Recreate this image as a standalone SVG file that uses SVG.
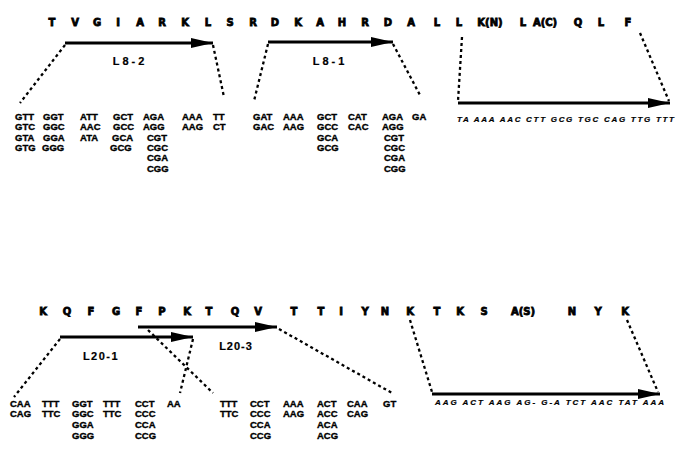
<svg xmlns="http://www.w3.org/2000/svg" width="676" height="459" viewBox="0 0 676 459">
<style>
.aa{font-family:"DejaVu Sans",sans-serif;font-weight:bold;font-size:10px;text-anchor:middle;fill:#000;stroke:#000;stroke-width:0.8}
.cd{font-family:"Liberation Sans",Arial,sans-serif;font-weight:bold;font-size:9.5px;fill:#000;stroke:#000;stroke-width:0.35}
.lb{font-family:"Liberation Sans",Arial,sans-serif;font-weight:bold;font-size:11px;text-anchor:middle;fill:#000;stroke:#000;stroke-width:0.2}
.it{font-family:"Liberation Sans",Arial,sans-serif;font-weight:bold;font-style:italic;font-size:8px;fill:#000;stroke:#000;stroke-width:0.2}
.ar{stroke:#000;stroke-width:3;fill:none}
.ds{stroke:#000;stroke-width:2.3;fill:none;stroke-dasharray:3 3}
</style>
<defs>
<marker id="ah" markerUnits="userSpaceOnUse" markerWidth="24" markerHeight="12" refX="22" refY="5" orient="auto">
<path d="M0,0 L22,5 L0,10 z" fill="#000"/>
</marker>
</defs>
<g id="row1">
<text class="aa" x="52" y="26">T</text><text class="aa" x="75" y="26">V</text><text class="aa" x="97" y="26">G</text><text class="aa" x="118" y="26">I</text><text class="aa" x="140" y="26">A</text><text class="aa" x="162" y="26">R</text><text class="aa" x="185" y="26">K</text><text class="aa" x="208" y="26">L</text><text class="aa" x="230" y="26">S</text><text class="aa" x="253" y="26">R</text><text class="aa" x="275" y="26">D</text><text class="aa" x="298" y="26">K</text><text class="aa" x="320" y="26">A</text><text class="aa" x="342" y="26">H</text><text class="aa" x="365" y="26">R</text><text class="aa" x="388" y="26">D</text><text class="aa" x="411" y="26">A</text><text class="aa" x="437" y="26">L</text><text class="aa" x="459" y="26">L</text><text class="aa" x="490" y="26">K(N)</text><text class="aa" x="523" y="26">L</text><text class="aa" x="545" y="26">A(C)</text><text class="aa" x="578" y="26">Q</text><text class="aa" x="601" y="26">L</text><text class="aa" x="628" y="26">F</text>
</g>
<g id="row2">
<text class="aa" x="43" y="315">K</text><text class="aa" x="67" y="315">Q</text><text class="aa" x="91" y="315">F</text><text class="aa" x="116" y="315">G</text><text class="aa" x="139" y="315">F</text><text class="aa" x="162" y="315">P</text><text class="aa" x="187" y="315">K</text><text class="aa" x="209" y="315">T</text><text class="aa" x="235" y="315">Q</text><text class="aa" x="258" y="315">V</text><text class="aa" x="294" y="315">T</text><text class="aa" x="321" y="315">T</text><text class="aa" x="341" y="315">I</text><text class="aa" x="365" y="315">Y</text><text class="aa" x="385" y="315">N</text><text class="aa" x="410" y="315">K</text><text class="aa" x="437" y="315">T</text><text class="aa" x="460" y="315">K</text><text class="aa" x="484" y="315">S</text><text class="aa" x="523" y="315">A(S)</text><text class="aa" x="572" y="315">N</text><text class="aa" x="598" y="315">Y</text><text class="aa" x="625" y="315">K</text>
</g>
<g id="connectors">
<line class="ar" x1="65" y1="43" x2="213" y2="43" marker-end="url(#ah)"/>
<line class="ar" x1="268" y1="42" x2="393" y2="42" marker-end="url(#ah)"/>
<line class="ar" x1="458" y1="103" x2="670" y2="103" stroke-width="2.5" marker-end="url(#ah)"/>
<line class="ar" x1="60" y1="337" x2="193" y2="337" marker-end="url(#ah)"/>
<line class="ar" x1="138" y1="327" x2="277" y2="327" marker-end="url(#ah)"/>
<line class="ar" x1="432" y1="394" x2="660" y2="394" stroke-width="2.5" marker-end="url(#ah)"/>
<path class="ds" d="M65,45 L20,103"/>
<path class="ds" d="M213,45 L224,97"/>
<path class="ds" d="M268,44 L254,101"/>
<path class="ds" d="M393,44 L421,97"/>
<path class="ds" d="M462,37 L458,101"/>
<path class="ds" d="M640,33 L669,101"/>
<path class="ds" d="M60,339 L14,397"/>
<path class="ds" d="M193,339 L180,393"/>
<path class="ds" d="M148,330 L213,393"/>
<path class="ds" d="M279,329 L392,393"/>
<path class="ds" d="M410,320 L432,392"/>
<path class="ds" d="M627,320 L658,392"/>
</g>
<g id="L8-2"><text class="lb" x="130" y="65" letter-spacing="3">L8-2</text></g>
<g id="L8-1"><text class="lb" x="330" y="65" letter-spacing="3">L8-1</text></g>
<g id="L20-1"><text class="lb" x="101" y="360" letter-spacing="1.5">L20-1</text></g>
<g id="L20-3"><text class="lb" x="236" y="350" letter-spacing="1">L20-3</text></g>
<g id="codons1">
<text class="cd" x="15" y="120">GTT</text><text class="cd" x="43" y="120">GGT</text><text class="cd" x="80" y="120">ATT</text><text class="cd" x="113" y="120">GCT</text><text class="cd" x="143" y="120">AGA</text><text class="cd" x="182" y="120">AAA</text><text class="cd" x="213" y="120">TT</text>
<text class="cd" x="15" y="130">GTC</text><text class="cd" x="43" y="130">GGC</text><text class="cd" x="80" y="130">AAC</text><text class="cd" x="113" y="130">GCC</text><text class="cd" x="143" y="130">AGG</text><text class="cd" x="182" y="130">AAG</text><text class="cd" x="213" y="130">CT</text>
<text class="cd" x="15" y="141">GTA</text><text class="cd" x="43" y="141">GGA</text><text class="cd" x="80" y="141">ATA</text><text class="cd" x="112" y="141">GCA</text><text class="cd" x="147" y="141">CGT</text>
<text class="cd" x="15" y="151">GTG</text><text class="cd" x="42" y="151">GGG</text><text class="cd" x="110" y="151">GCG</text><text class="cd" x="147" y="151">CGC</text>
<text class="cd" x="147" y="161">CGA</text>
<text class="cd" x="147" y="172">CGG</text>
</g>
<g id="codons2">
<text class="cd" x="253" y="120">GAT</text><text class="cd" x="283" y="120">AAA</text><text class="cd" x="317" y="120">GCT</text><text class="cd" x="348" y="120">CAT</text><text class="cd" x="382" y="120">AGA</text><text class="cd" x="412" y="120">GA</text>
<text class="cd" x="253" y="130">GAC</text><text class="cd" x="283" y="130">AAG</text><text class="cd" x="317" y="130">GCC</text><text class="cd" x="348" y="130">CAC</text><text class="cd" x="382" y="130">AGG</text>
<text class="cd" x="317" y="141">GCA</text><text class="cd" x="384" y="141">CGT</text>
<text class="cd" x="317" y="151">GCG</text><text class="cd" x="384" y="151">CGC</text>
<text class="cd" x="384" y="161">CGA</text>
<text class="cd" x="384" y="172">CGG</text>
</g>
<g id="seq1"><text class="it" x="457" y="122" textLength="217" lengthAdjust="spacing">TA AAA AAC CTT GCG TGC CAG TTG TTT</text></g>
<g id="codons3">
<text class="cd" x="10" y="407">CAA</text><text class="cd" x="42" y="407">TTT</text><text class="cd" x="72" y="407">GGT</text><text class="cd" x="103" y="407">TTT</text><text class="cd" x="135" y="407">CCT</text><text class="cd" x="167" y="407">AA</text>
<text class="cd" x="10" y="417">CAG</text><text class="cd" x="42" y="417">TTC</text><text class="cd" x="72" y="417">GGC</text><text class="cd" x="103" y="417">TTC</text><text class="cd" x="135" y="417">CCC</text>
<text class="cd" x="72" y="428">GGA</text><text class="cd" x="135" y="428">CCA</text>
<text class="cd" x="72" y="439">GGG</text><text class="cd" x="135" y="439">CCG</text>
</g>
<g id="codons4">
<text class="cd" x="220" y="407">TTT</text><text class="cd" x="250" y="407">CCT</text><text class="cd" x="283" y="407">AAA</text><text class="cd" x="317" y="407">ACT</text><text class="cd" x="347" y="407">CAA</text><text class="cd" x="383" y="407">GT</text>
<text class="cd" x="220" y="417">TTC</text><text class="cd" x="250" y="417">CCC</text><text class="cd" x="283" y="417">AAG</text><text class="cd" x="317" y="417">ACC</text><text class="cd" x="347" y="417">CAG</text>
<text class="cd" x="250" y="428">CCA</text><text class="cd" x="317" y="428">ACA</text>
<text class="cd" x="250" y="439">CCG</text><text class="cd" x="317" y="439">ACG</text>
</g>
<g id="seq2"><text class="it" x="435" y="405" textLength="229" lengthAdjust="spacing">AAG ACT AAG AG- G-A TCT AAC TAT AAA</text></g>
</svg>
